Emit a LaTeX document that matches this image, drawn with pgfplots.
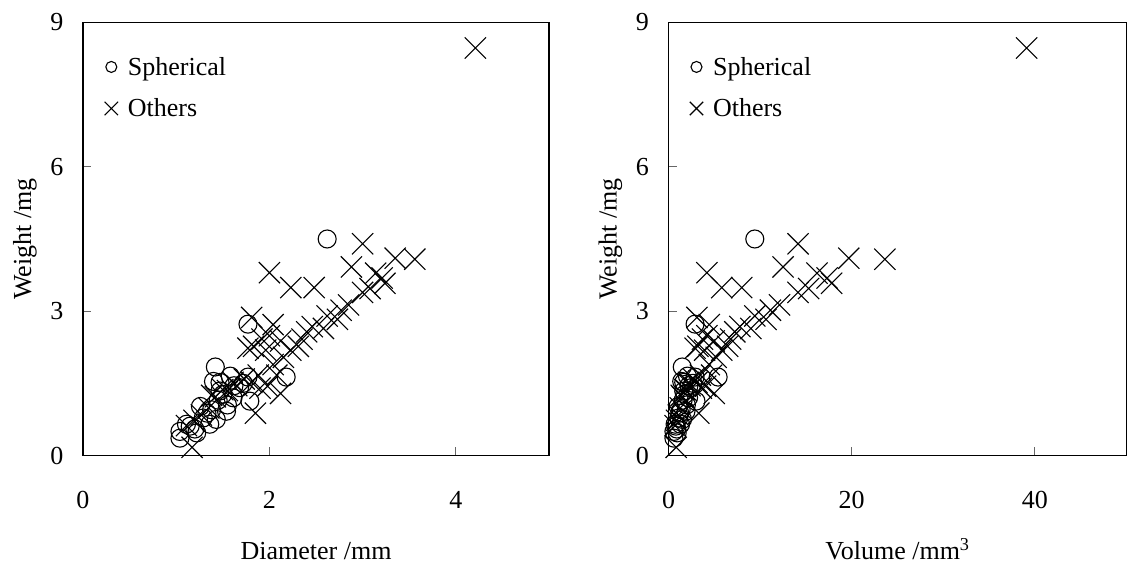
\documentclass[border=0pt]{standalone}
\usepackage{pgfplots}
\pgfplotsset{compat=1.18}
\usepackage{pgfplotstable}
\usepackage{fontspec}
\setmainfont{Liberation Serif}

\pgfplotstableread{
d w
2.62 4.50
1.77 2.73
1.42 1.84
2.18 1.63
1.40 1.54
1.58 1.65
1.77 1.63
1.47 1.34
1.61 1.20
1.79 1.13
1.54 0.92
1.26 1.02
1.29 0.78
1.43 0.75
1.11 0.65
1.04 0.50
1.04 0.36
1.22 0.47
1.15 0.61
1.36 0.65
1.50 1.27
1.68 1.41
1.45 1.15
1.55 1.05
1.33 0.88
1.20 0.55
1.38 0.95
1.62 1.45
1.72 1.50
1.47 1.52
}\sphD

\pgfplotstableread{
d w
4.21 8.47
3.00 4.40
3.56 4.08
3.35 4.10
2.88 3.92
2.00 3.80
2.23 3.49
2.48 3.49
3.14 3.79
3.24 3.58
3.21 3.69
3.08 3.47
3.00 3.39
2.85 3.13
2.77 3.02
2.73 2.83
2.62 2.90
2.58 2.64
2.46 2.68
2.40 2.57
2.35 2.42
2.31 2.27
2.23 2.19
2.15 2.04
2.04 2.72
2.00 2.49
2.12 2.38
1.81 2.87
1.77 2.23
1.83 2.27
1.92 2.42
1.96 2.19
2.04 1.89
2.08 1.67
2.12 1.29
1.98 1.44
1.88 1.67
1.81 1.52
1.85 0.88
1.73 1.59
1.61 1.52
1.50 1.37
1.42 1.22
1.35 0.99
1.27 0.84
1.19 0.73
1.11 0.62
1.17 0.17
1.38 1.25
1.90 1.40
1.55 1.35
1.65 1.45
}\othD

\pgfplotstableread{
v w
9.42 4.50
2.90 2.73
1.50 1.84
5.42 1.63
1.44 1.54
2.07 1.65
2.90 1.63
1.66 1.34
2.19 1.20
3.00 1.13
1.91 0.92
1.05 1.02
1.12 0.78
1.53 0.75
0.72 0.65
0.59 0.50
0.59 0.36
0.95 0.47
0.80 0.61
1.32 0.65
1.77 1.27
2.48 1.41
1.60 1.15
1.95 1.05
1.23 0.88
0.90 0.55
1.38 0.95
2.23 1.45
2.66 1.50
1.66 1.52
}\sphV

\pgfplotstableread{
v w
39.1 8.47
14.14 4.40
23.62 4.08
19.68 4.10
12.51 3.92
4.19 3.80
5.81 3.49
7.99 3.49
16.21 3.79
17.81 3.58
17.32 3.69
15.30 3.47
14.14 3.39
12.12 3.13
11.13 3.02
10.65 2.83
9.42 2.90
8.99 2.64
7.79 2.68
7.24 2.57
6.79 2.42
6.45 2.27
5.81 2.19
5.20 2.04
4.45 2.72
4.19 2.49
4.99 2.38
3.10 2.87
2.90 2.23
3.21 2.27
3.71 2.42
3.94 2.19
4.45 1.89
4.71 1.67
4.99 1.29
4.06 1.44
3.48 1.67
3.10 1.52
3.31 0.88
2.71 1.59
2.19 1.52
1.77 1.37
1.50 1.22
1.29 0.99
1.07 0.84
0.88 0.73
0.72 0.62
0.84 0.17
1.38 1.25
3.59 1.40
1.95 1.35
2.35 1.45
}\othV

\pgfplotsset{
  myaxis/.style={
    scale only axis,
    font=\fontsize{26}{31}\selectfont,
    axis line style={line width=1.4pt},
    ymin=0, ymax=9, ytick={0,3,6,9},
    tick align=inside, xtick pos=bottom, ytick pos=left,
    major tick length=8pt,
    tick style={line width=1pt, black!60},
    /pgf/number format/assume math mode=true,
    xticklabel style={yshift=-32pt},
    yticklabel style={xshift=-16pt},
    ylabel={Weight /mg},
    every axis y label/.style={at={(rel axis cs:0,0.5)}, xshift=-58pt, rotate=90, anchor=center},
    every axis x label/.style={at={(rel axis cs:0.5,0)}, yshift=-104pt, anchor=base},
    legend style={draw=none, fill=none, inner sep=0pt, anchor=north west, at={(0.042,0.925)},
      row sep=18pt, font=\fontsize{26}{31}\selectfont, nodes={inner sep=2pt}},
    legend cell align=left,
    legend image code/.code={\draw[#1] plot coordinates {(8pt,0pt)};\path (0pt,0pt) (22pt,0pt);},
  },
  sph/.style={only marks, mark=o, mark size=9pt, line width=1.1pt, black},
  oth/.style={only marks, mark=x, mark size=15pt, line width=1.1pt, black},
  lsph/.style={only marks, mark=o, mark size=5.5pt, line width=1.1pt, black},
  loth/.style={only marks, mark=x, mark size=9.5pt, line width=1.1pt, black},
}

\begin{document}
\begin{tikzpicture}[x=1pt,y=1pt]
\useasboundingbox (0,0) rectangle (1127,564);
\begin{axis}[myaxis, at={(83pt,108.5pt)}, anchor=south west,
  width=466pt, height=433pt, xmin=0, xmax=5, xtick={0,2,4},
  xlabel={Diameter /mm}]
\addlegendimage{lsph}
\addlegendentry{Spherical}
\addlegendimage{loth}
\addlegendentry{Others}
\addplot[sph, forget plot] table[x=d,y=w] {\sphD};
\addplot[oth, forget plot] table[x=d,y=w] {\othD};
\end{axis}
\begin{axis}[myaxis, at={(668.5pt,108.5pt)}, anchor=south west,
  width=458pt, height=433pt, xmin=0, xmax=50, xtick={0,20,40},
  xlabel={Volume /mm\textsuperscript{3}}]
\addlegendimage{lsph}
\addlegendentry{Spherical}
\addlegendimage{loth}
\addlegendentry{Others}
\addplot[sph, forget plot] table[x=v,y=w] {\sphV};
\addplot[oth, forget plot] table[x=v,y=w] {\othV};
\end{axis}
\end{tikzpicture}
\end{document}
